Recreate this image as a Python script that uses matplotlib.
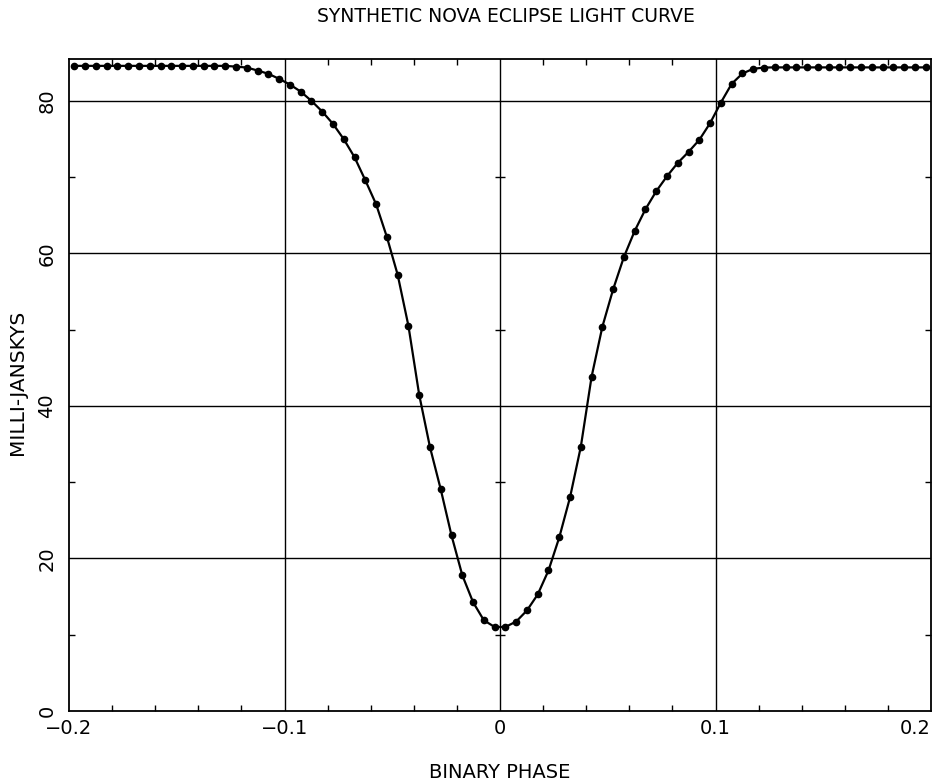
import numpy as np
import matplotlib
matplotlib.use("Agg")
import matplotlib.pyplot as plt
from matplotlib.ticker import MultipleLocator

# Binary phase samples (odd multiples of 0.0025)
phase = [-0.1975 + 0.005 * k for k in range(80)]

flux = [
    84.6, 84.6, 84.6, 84.6, 84.6, 84.6, 84.6, 84.6, 84.6, 84.6,
    84.6, 84.6, 84.6, 84.6, 84.6, 84.5, 84.38, 83.99, 83.56, 82.90,
    82.15, 81.23, 80.01, 78.61, 76.99, 74.99, 72.62, 69.6, 66.46, 62.17,
    57.22, 50.52, 41.47, 34.61, 29.07, 23.02, 17.81, 14.27, 11.90, 11.02,
    11.02, 11.73, 13.18, 15.28, 18.43, 22.76, 28.02, 34.65, 43.83, 50.39,
    55.30, 59.54, 62.95, 65.80, 68.16, 70.13, 71.88, 73.32, 74.90, 77.09,
    79.79, 82.24, 83.60, 84.21, 84.38, 84.4, 84.4, 84.4, 84.4, 84.4,
    84.4, 84.4, 84.4, 84.4, 84.4, 84.4, 84.4, 84.4, 84.4, 84.4,
]

x_ticks = [-0.2, -0.1, 0.0, 0.1, 0.2]
x_tick_labels = ["\u22120.2", "\u22120.1", "0", "0.1", "0.2"]
y_ticks = [0, 20, 40, 60, 80]
y_tick_labels = ["0", "20", "40", "60", "80"]
center_cross_levels = [10, 30, 50, 70]

title = "SYNTHETIC NOVA ECLIPSE LIGHT CURVE"
xlabel = "BINARY PHASE"
ylabel = "MILLI-JANSKYS"

fig = plt.figure(figsize=(9.5, 7.82), dpi=100)
ax = fig.add_axes([69 / 950, 1 - 711 / 782, (931 - 69) / 950, (711 - 59) / 782])

ax.set_xlim(-0.2, 0.2)
ax.set_ylim(0, 85.5)

# grid lines
for xv in x_ticks[1:-1]:
    ax.axvline(xv, color="black", lw=1.0, zorder=1)
for yv in y_ticks[1:]:
    ax.axhline(yv, color="black", lw=1.0, zorder=1)

# small crosses on the zero-phase line
ax.plot([0.0] * len(center_cross_levels), center_cross_levels, ls="none",
        marker="_", ms=7, mew=1.0, color="black", zorder=1)

ax.plot(phase, flux, color="black", lw=1.6, marker="o", ms=4.5,
        mfc="black", mec="black", zorder=3)

ax.set_xticks(x_ticks)
ax.set_xticklabels(x_tick_labels)
ax.set_yticks(y_ticks)
ax.set_yticklabels(y_tick_labels, rotation=90, va="center")
ax.xaxis.set_minor_locator(MultipleLocator(0.02))
ax.yaxis.set_minor_locator(MultipleLocator(10))

ax.tick_params(which="both", direction="in", top=True, right=True,
               color="black", width=1.0)
ax.tick_params(which="major", length=0, labelsize=14, pad=6)
ax.tick_params(which="minor", length=4)
ax.tick_params(axis="y", which="major", pad=9)

labels = ax.get_xticklabels()
labels[-1].set_horizontalalignment("right")

for sp in ax.spines.values():
    sp.set_linewidth(1.3)
    sp.set_color("black")

fig.text(506 / 950, 1 - 17 / 782, title, ha="center", va="center", fontsize=13.5,
         family=["DejaVu Sans"])
fig.text(500 / 950, 1 - 773 / 782, xlabel, ha="center", va="center", fontsize=14,
         family=["DejaVu Sans"])
fig.text(18 / 950, 1 - 382 / 782, ylabel, ha="center", va="center", rotation=90,
         fontsize=14.5, family=["DejaVu Sans"])

fig.savefig("out.png", dpi=100, facecolor="white")
